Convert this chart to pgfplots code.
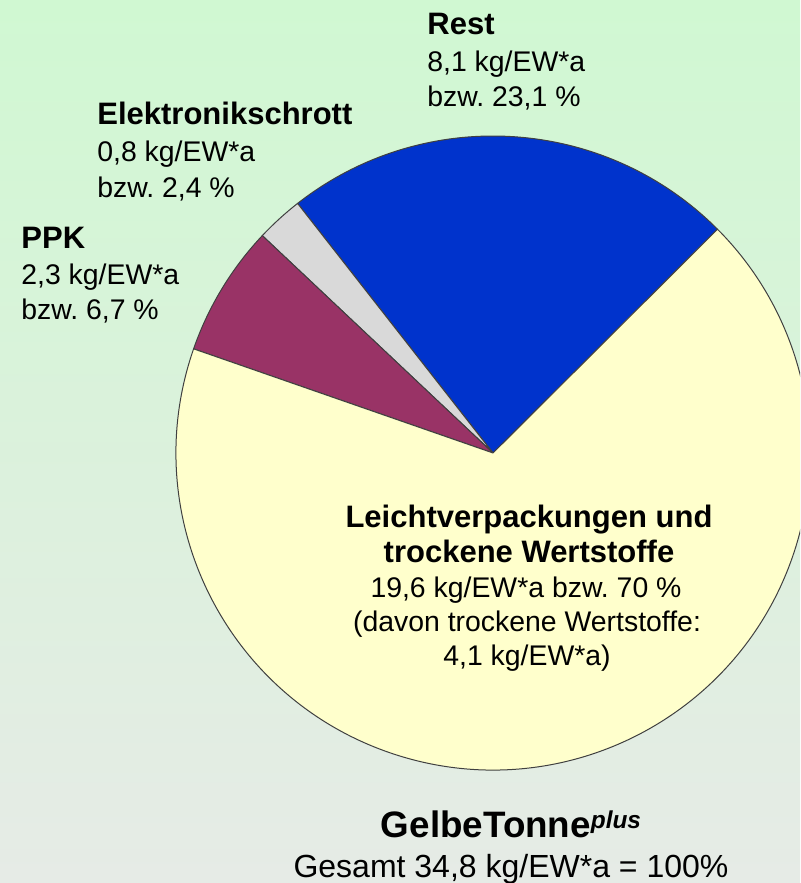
\documentclass[border=0pt]{standalone}
\usepackage{pgfplots}
\pgfplotsset{compat=1.18}
\usepackage{fontspec}
\setmainfont{Liberation Sans}
\frenchspacing
\definecolor{bgtop}{RGB}{208,248,210}
\definecolor{bgbot}{RGB}{230,235,230}
\definecolor{cLVP}{RGB}{255,255,204}
\definecolor{cRest}{RGB}{0,51,204}
\definecolor{cElek}{RGB}{217,217,217}
\definecolor{cPPK}{RGB}{153,51,102}
\newcommand{\bfl}{\fontsize{15.5}{17}\selectfont\bfseries}
\newcommand{\rgl}{\fontsize{14.2}{16}\selectfont}
% shares in percent (drawn as percent of 360 degrees, starting at 44.9 deg)
\pgfmathsetmacro{\aA}{44.9}
\pgfmathsetmacro{\aB}{\aA+23.1*3.6}  % Rest 23.1 %
\pgfmathsetmacro{\aC}{\aB+2.4*3.6}   % Elektronikschrott 2.4 %
\pgfmathsetmacro{\aD}{\aC+6.7*3.6}   % PPK 6.7 %
\pgfmathsetmacro{\aE}{\aA+360}       % LVP (remainder)
\def\R{158.5pt}
\newcommand{\slice}[3]{\filldraw[fill=#3, draw=black!75, line width=0.5pt, line join=round]
    (axis cs:493,453) -- ++(#1:\R) arc[start angle=#1, end angle=#2, radius=\R] -- cycle;}
\begin{document}
\begin{tikzpicture}
\begin{axis}[x=0.5pt, y=0.5pt, xmin=0, xmax=800, ymin=0, ymax=883,
  y dir=reverse, hide axis, clip=true]
% background
\fill[top color=bgtop, bottom color=bgbot] (axis cs:0,0) rectangle (axis cs:800,883);
\slice{\aA}{\aB}{cRest}
\slice{\aB}{\aC}{cElek}
\slice{\aC}{\aD}{cPPK}
\slice{\aD}{\aE}{cLVP}
% labels
\node[anchor=base west, inner sep=0pt] at (axis cs:427,35) {\bfl Rest};
\node[anchor=base west, inner sep=0pt] at (axis cs:427,72) {\rgl 8,1 kg/EW*a};
\node[anchor=base west, inner sep=0pt] at (axis cs:427,107) {\rgl bzw. 23,1 \%};
\node[anchor=base west, inner sep=0pt] at (axis cs:97,125) {\bfl Elektronikschrott};
\node[anchor=base west, inner sep=0pt] at (axis cs:97,162) {\rgl 0,8 kg/EW*a};
\node[anchor=base west, inner sep=0pt] at (axis cs:97,197) {\rgl bzw. 2,4 \%};
\node[anchor=base west, inner sep=0pt] at (axis cs:21,248) {\bfl PPK};
\node[anchor=base west, inner sep=0pt] at (axis cs:21,284) {\rgl 2,3 kg/EW*a};
\node[anchor=base west, inner sep=0pt] at (axis cs:21,319) {\rgl bzw. 6,7 \%};
\node[anchor=base, inner sep=0pt] at (axis cs:529,527) {\bfl Leichtverpackungen und};
\node[anchor=base, inner sep=0pt] at (axis cs:529,562) {\bfl trockene Wertstoffe};
\node[anchor=base, inner sep=0pt] at (axis cs:526,597) {\rgl 19,6 kg/EW*a bzw. 70 \%};
\node[anchor=base, inner sep=0pt] at (axis cs:527,631) {\rgl (davon trockene Wertstoffe:};
\node[anchor=base, inner sep=0pt] at (axis cs:527,665) {\rgl 4,1 kg/EW*a)};
\node[anchor=base, inner sep=0pt] at (axis cs:511,837) {\fontsize{18.4}{20}\selectfont\bfseries GelbeTonne\raisebox{4.5pt}{\fontsize{12.2}{13}\selectfont\bfseries\itshape plus}};
\node[anchor=base, inner sep=0pt] at (axis cs:511,877) {\fontsize{16}{18}\selectfont Gesamt 34,8 kg/EW*a = 100\%};
\end{axis}
\end{tikzpicture}
\end{document}
